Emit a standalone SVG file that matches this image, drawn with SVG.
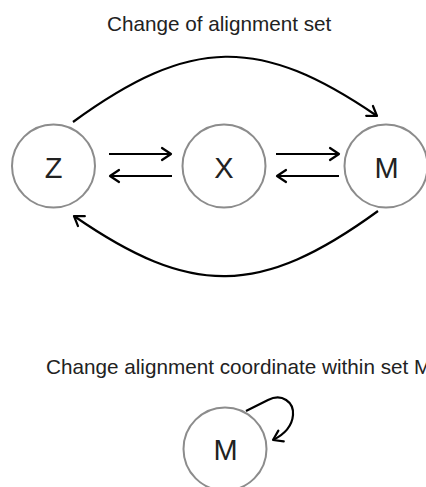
<svg xmlns="http://www.w3.org/2000/svg" width="426" height="487" viewBox="0 0 426 487">
<style>
.node{fill:#fff;stroke:#8c8c8c;stroke-width:2}
.lbl{font-family:"Liberation Sans",Arial,sans-serif;font-size:29px;fill:#222;text-anchor:middle}
.title{font-family:"Liberation Sans",Arial,sans-serif;font-size:20.7px;fill:#222}
.edge{fill:none;stroke:#000;stroke-width:2.2;marker-end:url(#arr)}
</style>
<defs>
<marker id="arr" markerUnits="userSpaceOnUse" markerWidth="20" markerHeight="20" refX="0" refY="0" viewBox="-12 -10 16 20" orient="auto" overflow="visible">
<path d="M-9,-6 L0,0 L-9,6" fill="none" stroke="#000" stroke-width="2.2" stroke-linecap="round" stroke-linejoin="round"/>
</marker>
</defs>
<text class="title" x="107" y="31">Change of alignment set</text>
<text class="title" x="46" y="374">Change alignment coordinate within set M</text>
<g id="connectors">
<path class="edge" d="M73,122 C191,36 260,36 377,116"/>
<path class="edge" d="M378,211 C260,297 191,297 74,216"/>
<path class="edge" d="M109,154 L171,154"/>
<path class="edge" d="M172,176 L110,176"/>
<path class="edge" d="M276,154 L339,154"/>
<path class="edge" d="M339,176 L277,176"/>
<path class="edge" d="M246,411 L268,400 C282,393 294,402 293,415 C292,427 283,435 273,440"/>
</g>
<g id="node-Z"><circle class="node" cx="53.5" cy="166" r="41.5"/><text class="lbl" x="53.5" y="177.5">Z</text></g>
<g id="node-X"><circle class="node" cx="224" cy="166" r="41.5"/><text class="lbl" x="224" y="177.5">X</text></g>
<g id="node-M"><circle class="node" cx="386" cy="166" r="41.5"/><text class="lbl" x="386.5" y="177.5">M</text></g>
<g id="node-M2"><circle class="node" cx="225" cy="449" r="41.5"/><text class="lbl" x="225.5" y="460">M</text></g>
</svg>
